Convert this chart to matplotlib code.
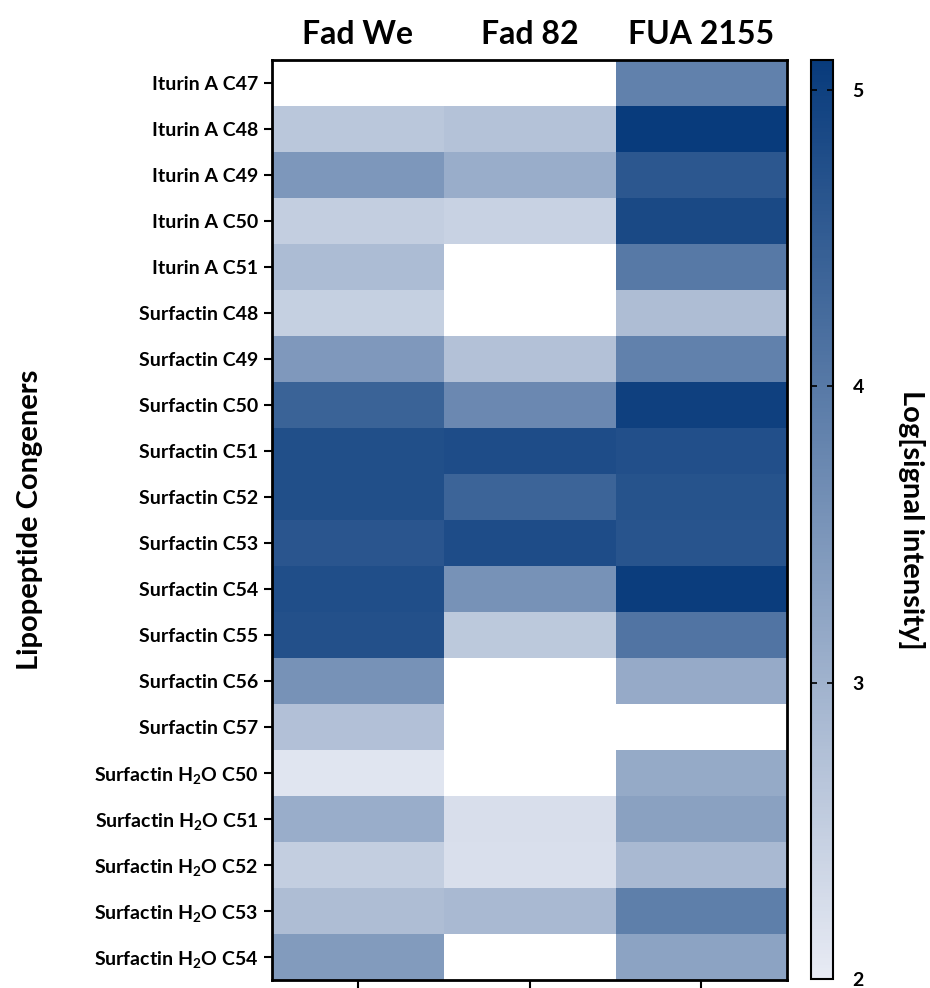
import matplotlib
matplotlib.use("Agg")
import matplotlib.pyplot as plt
import numpy as np
from matplotlib.colors import LinearSegmentedColormap

plt.rcParams['font.family'] = ['Lato', 'DejaVu Sans']
plt.rcParams['font.weight'] = 'bold'
plt.rcParams['axes.labelweight'] = 'bold'
plt.rcParams['mathtext.default'] = 'regular'

strains = ['Fad We', 'Fad 82', 'FUA 2155']
congeners = ['Iturin A C47', 'Iturin A C48', 'Iturin A C49', 'Iturin A C50',
             'Iturin A C51', 'Surfactin C48', 'Surfactin C49', 'Surfactin C50',
             'Surfactin C51', 'Surfactin C52', 'Surfactin C53', 'Surfactin C54',
             'Surfactin C55', 'Surfactin C56', 'Surfactin C57',
             'Surfactin H$_2$O C50', 'Surfactin H$_2$O C51', 'Surfactin H$_2$O C52',
             'Surfactin H$_2$O C53', 'Surfactin H$_2$O C54']

# log signal intensity per strain, nan = not detected
fad_we = [np.nan, 2.64, 3.47, 2.51, 2.83, 2.48, 3.45, 4.39, 4.74, 4.74,
          4.62, 4.75, 4.72, 3.56, 2.74, 2.10, 3.08, 2.51, 2.80, 3.40]
fad_82 = [np.nan, 2.72, 3.08, 2.44, np.nan, np.nan, 2.73, 3.73, 4.78, 4.37,
          4.78, 3.56, 2.60, np.nan, np.nan, np.nan, 2.22, 2.21, 2.87, np.nan]
fua_2155 = [3.86, 5.10, 4.59, 4.84, 3.99, 2.80, 3.86, 5.00, 4.73, 4.67,
            4.64, 5.04, 4.08, 3.13, np.nan, 3.14, 3.30, 2.87, 3.90, 3.27]

data = np.ma.masked_invalid(np.array([fad_we, fad_82, fua_2155]).T)

cmap = LinearSegmentedColormap.from_list('blues', ['#e8ebf4', '#083b7c'])
cmap.set_bad('white')

fig = plt.figure(figsize=(9.3, 9.88), dpi=100)
ax = fig.add_axes([0.2925, 0.0081, 0.554, 0.931])
cax = fig.add_axes([0.872, 0.009, 0.0237, 0.930])

im = ax.imshow(data, cmap=cmap, vmin=2, vmax=5.1, aspect='auto',
               interpolation='nearest')

ax.set_xticks(range(len(strains)))
ax.set_xticklabels([])
ax.set_yticks(range(len(congeners)))
ax.set_yticklabels(congeners, fontsize=14)
ax.tick_params(axis='both', direction='out', width=1.5, length=6, pad=4)
ax.tick_params(axis='x', bottom=True, top=False)

for i, s in enumerate(strains):
    ax.text(i, -0.75, s, ha='center', va='bottom', fontsize=23,
            fontweight='bold')

for sp in ax.spines.values():
    sp.set_linewidth(2)

ax.set_ylabel('Lipopeptide Congeners', fontsize=21)
ax.yaxis.set_label_coords(-0.445, 0.5)

cbar = fig.colorbar(im, cax=cax, ticks=[2, 3, 4, 5])
cbar.outline.set_linewidth(1.5)
cax.tick_params(direction='in', left=True, right=True, length=4, width=1.2,
                labelsize=14, pad=14)
for t in cax.get_yticklabels():
    t.set_fontweight('bold')
cbar.set_label('Log[signal intensity]', fontsize=21, rotation=270,
               va='center')
cax.yaxis.set_label_coords(4.55, 0.5)

fig.savefig('out.png', dpi=100)
